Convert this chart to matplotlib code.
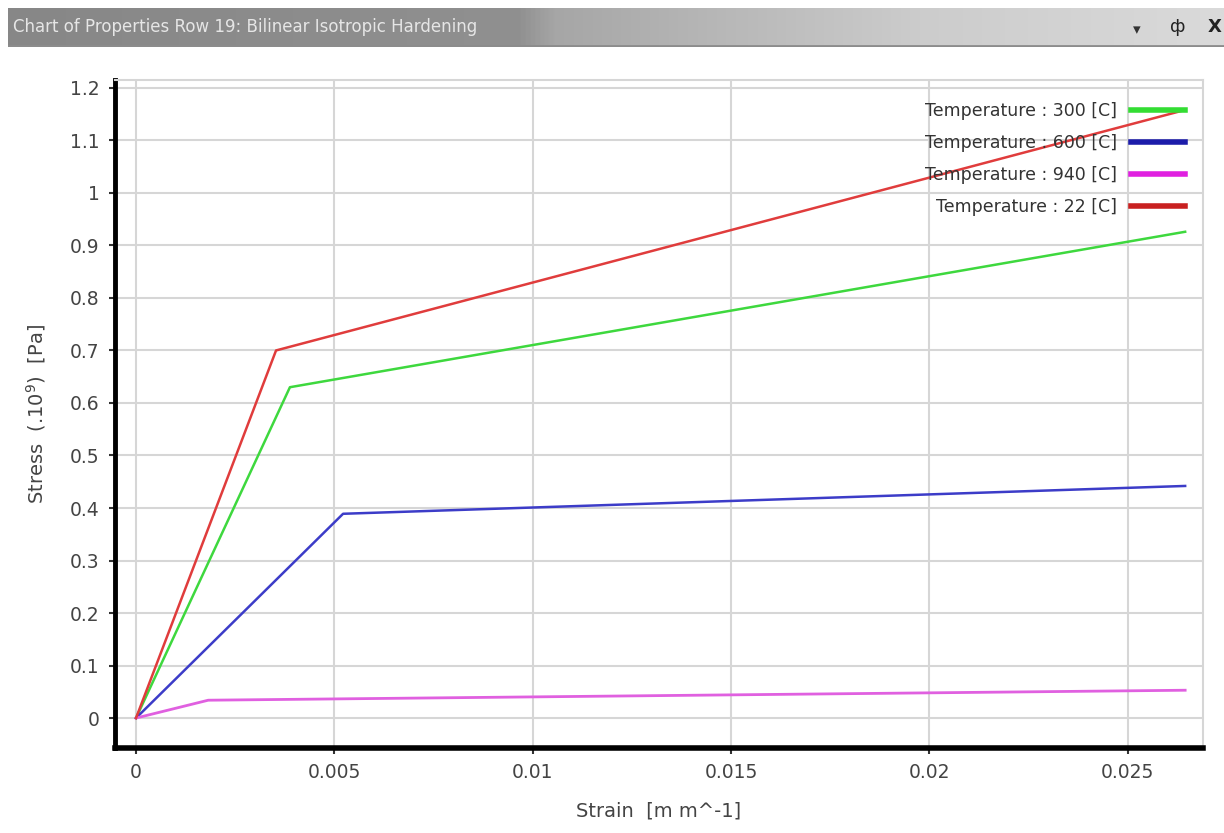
import numpy as np
import matplotlib.pyplot as plt
from matplotlib.colors import LinearSegmentedColormap

# Bilinear isotropic hardening curves, stress in 1e9 Pa
strain_22 = [0, 0.00353, 0.02645]
stress_22 = [0, 0.700, 1.158]
strain_300 = [0, 0.00388, 0.02645]
stress_300 = [0, 0.630, 0.926]
strain_600 = [0, 0.00522, 0.02645]
stress_600 = [0, 0.389, 0.442]
strain_940 = [0, 0.00182, 0.02645]
stress_940 = [0, 0.034, 0.053]

x_ticks = [0, 0.005, 0.01, 0.015, 0.02, 0.025]
x_labels = ["0", "0.005", "0.01", "0.015", "0.02", "0.025"]
y_ticks = [0, 0.1, 0.2, 0.3, 0.4, 0.5, 0.6, 0.7, 0.8, 0.9, 1.0, 1.1, 1.2]
y_labels = ["0", "0.1", "0.2", "0.3", "0.4", "0.5", "0.6", "0.7", "0.8", "0.9", "1", "1.1", "1.2"]

fig = plt.figure(figsize=(12.24, 8.33), dpi=100)

# window title bar
bar = fig.add_axes([8 / 1224, 1 - 47 / 833, 1 - 8 / 1224, 39 / 833])
bar_cmap = LinearSegmentedColormap.from_list(
    "bar", [(0, "#878787"), (0.42, "#909090"), (0.45, "#a6a6a6"), (0.75, "#cccccc"), (1, "#dadada")])
grad = np.linspace(0, 1, 512)
bar.imshow(grad[np.newaxis, :], aspect="auto", cmap=bar_cmap, extent=[0, 1, 0, 1])
bar.set_xlim(0, 1)
bar.set_ylim(0, 1)
bar.axis("off")
bar.axhline(0.03, color="#8c8c8c", lw=2)
bar.text(0.004, 0.5, "Chart of Properties Row 19: Bilinear Isotropic Hardening",
         color="#e6e6e6", fontsize=12, va="center", ha="left")
bar.text(0.928, 0.45, "▾", color="#333333", fontsize=11, va="center", ha="center")
bar.text(0.962, 0.5, "ф", color="#222222", fontsize=13, va="center", ha="center")
bar.text(0.992, 0.5, "X", color="#222222", fontsize=13, va="center", ha="center",
         fontweight="bold")

ax = fig.add_axes([115 / 1224, 85 / 833, 1088 / 1224, 668 / 833])

ax.plot(strain_300, stress_300, color="#3ed83e", lw=1.8, label="Temperature : 300 [C]")
ax.plot(strain_600, stress_600, color="#3c3cc8", lw=1.8, label="Temperature : 600 [C]")
ax.plot(strain_940, stress_940, color="#e060e0", lw=2.0, label="Temperature : 940 [C]")
ax.plot(strain_22, stress_22, color="#e03c3c", lw=1.8, label="Temperature : 22 [C]")

ax.set_xlim(-0.00053, 0.0269)
ax.set_ylim(-0.057, 1.215)
ax.set_xticks(x_ticks)
ax.set_xticklabels(x_labels)
ax.set_yticks(y_ticks)
ax.set_yticklabels(y_labels)
ax.tick_params(axis="both", labelsize=13.5, labelcolor="#444444", color="#333333",
               length=4, width=1.5, direction="out", pad=7)
ax.grid(True, color="#d6d6d6", lw=1.5)
ax.set_axisbelow(True)

ax.spines["left"].set_linewidth(3.5)
ax.spines["left"].set_color("black")
ax.spines["bottom"].set_linewidth(4)
ax.spines["bottom"].set_color("black")
ax.spines["top"].set_color("#d6d6d6")
ax.spines["top"].set_linewidth(1.5)
ax.spines["right"].set_color("#d6d6d6")
ax.spines["right"].set_linewidth(1.5)

ax.set_xlabel("Strain  [m m^-1]", fontsize=14, color="#444444", labelpad=14)
ax.set_ylabel("Stress  (.10$^9$)  [Pa]", fontsize=14, color="#444444", labelpad=16)

leg = ax.legend(loc="upper right", bbox_to_anchor=(0.990, 0.978), borderaxespad=0,
                markerfirst=False, frameon=False, fontsize=12.5,
                handlelength=3.1, handletextpad=0.8, labelspacing=0.82)
for line in leg.get_lines():
    line.set_linewidth(4)
leg.get_lines()[0].set_color("#33dd33")
leg.get_lines()[1].set_color("#1c1caa")
leg.get_lines()[2].set_color("#e020e0")
leg.get_lines()[3].set_color("#c82020")
for t in leg.get_texts():
    t.set_color("#333333")

fig.savefig("out.png", dpi=100)
